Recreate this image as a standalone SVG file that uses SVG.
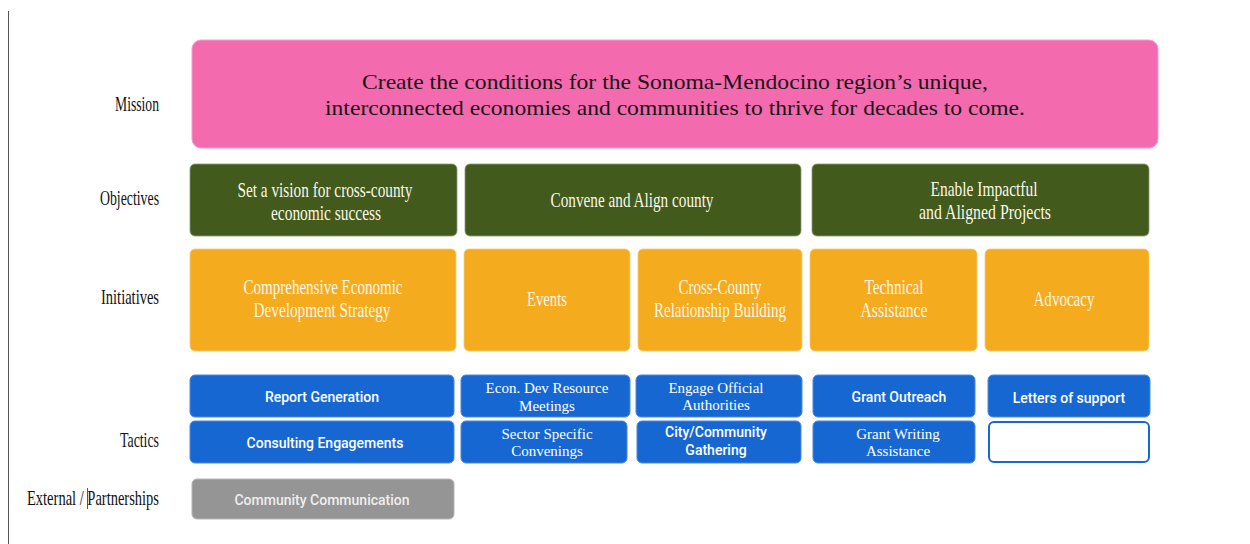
<svg xmlns="http://www.w3.org/2000/svg" width="1250" height="544" viewBox="0 0 1250 544">
  <style>
    .row-label { font-family: "Liberation Serif", serif; font-size: 21px; fill: #111; text-anchor: end; }
    .mission { fill: #F46AAE; stroke: #F79BC8; stroke-width: 1; }
    .mission-text { font-family: "Liberation Serif", serif; font-size: 22px; fill: #1a1418; text-anchor: middle; }
    .objective { fill: #425A1B; stroke: #8d9a78; stroke-width: 0.8; }
    .initiative { fill: #F4AB1E; stroke: #F8CC7A; stroke-width: 0.8; }
    .cond { font-family: "Liberation Serif", serif; font-size: 21px; fill: #FBF6EA; text-anchor: middle; }
    .tactic { fill: #1767D3; stroke: #4a8ae3; stroke-width: 1; }
    .tactic-empty { fill: #ffffff; stroke: #1767D3; stroke-width: 2; }
    .sans { font-family: Roboto, "Liberation Sans", sans-serif; font-size: 14px; font-weight: 500; fill: #ffffff; text-anchor: middle; }
    .serif-sm { font-family: "Liberation Serif", serif; font-size: 15px; fill: #ffffff; text-anchor: middle; }
    .external { fill: #959595; stroke: #b5b5b5; stroke-width: 1; }
  </style>

  <!-- left rule -->
  <line x1="8.5" y1="11" x2="8.5" y2="544" stroke="#555" stroke-width="1"/>

  <!-- row labels -->
  <g id="labels">
    <text class="row-label" x="159" y="111" textLength="44" lengthAdjust="spacingAndGlyphs">Mission</text>
    <text class="row-label" x="159" y="205" textLength="59" lengthAdjust="spacingAndGlyphs">Objectives</text>
    <text class="row-label" x="159" y="304" textLength="58" lengthAdjust="spacingAndGlyphs">Initiatives</text>
    <text class="row-label" x="159" y="447" textLength="39" lengthAdjust="spacingAndGlyphs">Tactics</text>
    <text class="row-label" x="159" y="505" textLength="132" lengthAdjust="spacingAndGlyphs">External / Partnerships</text>
    <line x1="87.5" y1="488" x2="87.5" y2="509" stroke="#555" stroke-width="1"/>
  </g>

  <!-- mission -->
  <g id="mission">
    <rect class="mission" x="192" y="40" width="966" height="108" rx="9"/>
    <text class="mission-text" x="675" y="89" textLength="626" lengthAdjust="spacingAndGlyphs">Create the conditions for the Sonoma-Mendocino region’s unique,</text>
    <text class="mission-text" x="675" y="115" textLength="700" lengthAdjust="spacingAndGlyphs">interconnected economies and communities to thrive for decades to come.</text>
  </g>

  <!-- objectives -->
  <g id="objective-vision">
    <rect class="objective" x="190" y="164" width="267" height="72" rx="5"/>
    <text class="cond" x="325" y="197" textLength="175" lengthAdjust="spacingAndGlyphs">Set a vision for cross-county</text>
    <text class="cond" x="326" y="220" textLength="110" lengthAdjust="spacingAndGlyphs">economic success</text>
  </g>
  <g id="objective-convene">
    <rect class="objective" x="465" y="164" width="336" height="72" rx="5"/>
    <text class="cond" x="632" y="207" textLength="163" lengthAdjust="spacingAndGlyphs">Convene and Align county</text>
  </g>
  <g id="objective-enable">
    <rect class="objective" x="812" y="164" width="337" height="72" rx="5"/>
    <text class="cond" x="984" y="196" textLength="107" lengthAdjust="spacingAndGlyphs">Enable Impactful</text>
    <text class="cond" x="985" y="219" textLength="132" lengthAdjust="spacingAndGlyphs">and Aligned Projects</text>
  </g>

  <!-- initiatives -->
  <g id="initiative-ceds">
    <rect class="initiative" x="190" y="249" width="266" height="102" rx="5"/>
    <text class="cond" x="323" y="294" textLength="159" lengthAdjust="spacingAndGlyphs">Comprehensive Economic</text>
    <text class="cond" x="322" y="317" textLength="137" lengthAdjust="spacingAndGlyphs">Development Strategy</text>
  </g>
  <g id="initiative-events">
    <rect class="initiative" x="464" y="249" width="166" height="102" rx="5"/>
    <text class="cond" x="547" y="306" textLength="40" lengthAdjust="spacingAndGlyphs">Events</text>
  </g>
  <g id="initiative-relationships">
    <rect class="initiative" x="638" y="249" width="164" height="102" rx="5"/>
    <text class="cond" x="720" y="294" textLength="83" lengthAdjust="spacingAndGlyphs">Cross-County</text>
    <text class="cond" x="720" y="317" textLength="132" lengthAdjust="spacingAndGlyphs">Relationship Building</text>
  </g>
  <g id="initiative-technical">
    <rect class="initiative" x="810" y="249" width="167" height="102" rx="5"/>
    <text class="cond" x="894" y="294" textLength="59" lengthAdjust="spacingAndGlyphs">Technical</text>
    <text class="cond" x="894" y="317" textLength="67" lengthAdjust="spacingAndGlyphs">Assistance</text>
  </g>
  <g id="initiative-advocacy">
    <rect class="initiative" x="985" y="249" width="164" height="102" rx="5"/>
    <text class="cond" x="1064" y="306" textLength="61" lengthAdjust="spacingAndGlyphs">Advocacy</text>
  </g>

  <!-- tactics -->
  <g id="tactic-report">
    <rect class="tactic" x="190" y="375" width="264" height="42" rx="5"/>
    <text class="sans" x="322" y="402">Report Generation</text>
  </g>
  <g id="tactic-consulting">
    <rect class="tactic" x="190" y="421" width="264" height="42" rx="5"/>
    <text class="sans" x="325" y="448">Consulting Engagements</text>
  </g>
  <g id="tactic-resource-meetings">
    <rect class="tactic" x="461" y="375" width="169" height="42" rx="5"/>
    <text class="serif-sm" x="547" y="393">Econ. Dev Resource</text>
    <text class="serif-sm" x="547" y="411">Meetings</text>
  </g>
  <g id="tactic-sector">
    <rect class="tactic" x="461" y="421" width="166" height="42" rx="5"/>
    <text class="serif-sm" x="547" y="439">Sector Specific</text>
    <text class="serif-sm" x="547" y="456">Convenings</text>
  </g>
  <g id="tactic-officials">
    <rect class="tactic" x="636" y="375" width="166" height="42" rx="5"/>
    <text class="serif-sm" x="716" y="393">Engage Official</text>
    <text class="serif-sm" x="716" y="410">Authorities</text>
  </g>
  <g id="tactic-gathering">
    <rect class="tactic" x="637" y="421" width="164" height="42" rx="5"/>
    <text class="sans" x="716" y="437">City/Community</text>
    <text class="sans" x="716" y="455">Gathering</text>
  </g>
  <g id="tactic-grant-outreach">
    <rect class="tactic" x="813" y="375" width="162" height="42" rx="5"/>
    <text class="sans" x="899" y="402">Grant Outreach</text>
  </g>
  <g id="tactic-grant-writing">
    <rect class="tactic" x="813" y="421" width="162" height="42" rx="5"/>
    <text class="serif-sm" x="898" y="439">Grant Writing</text>
    <text class="serif-sm" x="898" y="456">Assistance</text>
  </g>
  <g id="tactic-letters">
    <rect class="tactic" x="988" y="375" width="162" height="42" rx="5"/>
    <text class="sans" x="1069" y="403">Letters of support</text>
  </g>
  <g id="tactic-open">
    <rect class="tactic-empty" x="989" y="422" width="160" height="40" rx="5"/>
  </g>

  <!-- external / partnerships -->
  <g id="external-communication">
    <rect class="external" x="192" y="479" width="262" height="40" rx="5"/>
    <text class="sans" x="322" y="505" style="fill:#eeeeee">Community Communication</text>
  </g>
</svg>
